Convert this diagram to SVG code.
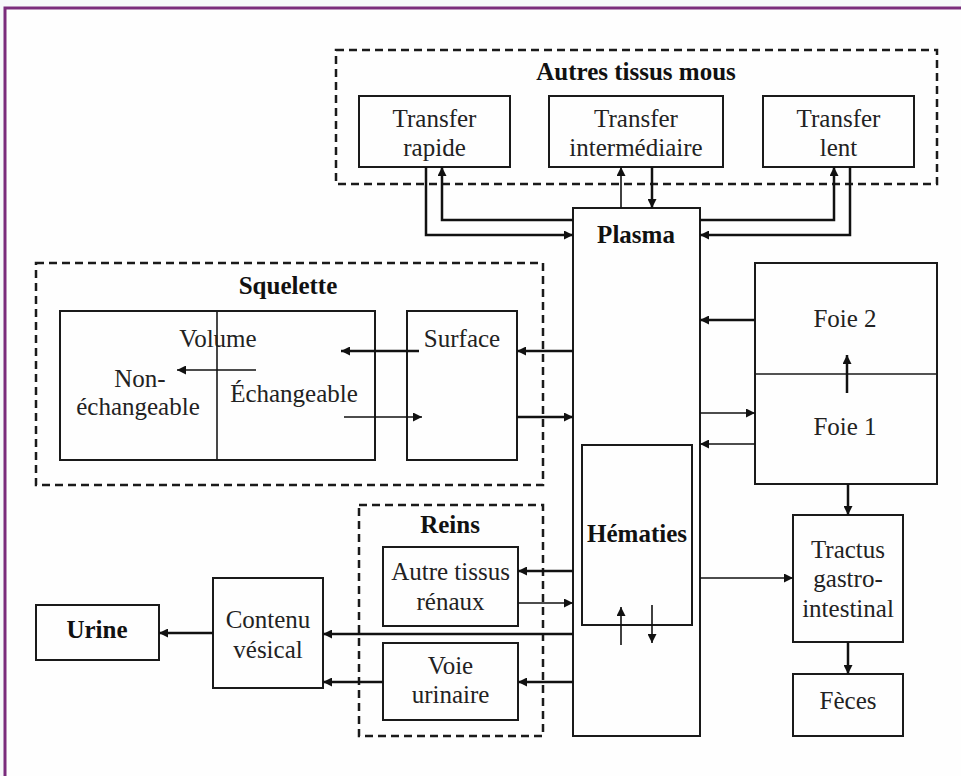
<svg xmlns="http://www.w3.org/2000/svg" width="961" height="776" viewBox="0 0 961 776">
<defs>
<marker id="ah" viewBox="0 0 10 10" refX="10" refY="5" markerWidth="9" markerHeight="9" markerUnits="userSpaceOnUse" orient="auto">
<path d="M0,0 L10,5 L0,10 z" fill="#111"/>
</marker>
</defs>
<style>
.box{fill:none;stroke:#1a1a1a;stroke-width:2}
.dash{fill:none;stroke:#1a1a1a;stroke-width:2.5;stroke-dasharray:8 5}
.t{font-family:"Liberation Serif","Times New Roman",serif;font-size:25px;fill:#222;text-anchor:middle}
.b{font-weight:bold;fill:#111}
.c{fill:none;stroke:#111;stroke-width:2.5;marker-end:url(#ah)}
.thin{stroke-width:1.6}
</style>
<rect x="0" y="0" width="961" height="776" fill="#f6f8fa"/>
<rect x="5" y="8" width="960" height="775" fill="#fefefe" stroke="#7a2c7c" stroke-width="3"/>

<g id="autres-tissus-mous">
<rect class="dash" x="336" y="50" width="601" height="134"/>
<text class="t b" x="636" y="80">Autres tissus mous</text>
</g>
<g id="transfer-rapide">
<rect class="box" x="359" y="96" width="151" height="71"/>
<text class="t" x="434.5" y="127">Transfer</text>
<text class="t" x="434.5" y="156">rapide</text>
</g>
<g id="transfer-intermediaire">
<rect class="box" x="549" y="96" width="174" height="71"/>
<text class="t" x="636" y="127">Transfer</text>
<text class="t" x="636" y="156">intermédiaire</text>
</g>
<g id="transfer-lent">
<rect class="box" x="763" y="96" width="151" height="71"/>
<text class="t" x="838.5" y="127">Transfer</text>
<text class="t" x="838.5" y="156">lent</text>
</g>

<g id="plasma">
<rect class="box" x="573" y="208" width="127" height="528"/>
<text class="t b" x="636" y="243">Plasma</text>
</g>
<g id="hematies">
<rect class="box" x="582" y="445" width="110" height="180"/>
<text class="t b" x="637" y="542">Hématies</text>
</g>

<g id="squelette">
<rect class="dash" x="36" y="263" width="507" height="222"/>
<text class="t b" x="288" y="294">Squelette</text>
</g>
<g id="volume">
<rect class="box" x="60" y="311" width="315" height="149"/>
<line x1="217" y1="311" x2="217" y2="460" stroke="#1a1a1a" stroke-width="1.6"/>
<text class="t" x="218" y="347">Volume</text>
<text class="t" x="140" y="387">Non-</text>
<text class="t" x="138" y="415">échangeable</text>
<text class="t" x="294" y="402">Échangeable</text>
</g>
<g id="surface">
<rect class="box" x="407" y="311" width="110" height="149"/>
<text class="t" x="462" y="347">Surface</text>
</g>

<g id="foie">
<rect class="box" x="755" y="263" width="182" height="221"/>
<line x1="755" y1="374" x2="937" y2="374" stroke="#1a1a1a" stroke-width="1.4"/>
<text class="t" x="845" y="327">Foie 2</text>
<text class="t" x="845" y="435">Foie 1</text>
</g>
<g id="tractus">
<rect class="box" x="793" y="515" width="110" height="127"/>
<text class="t" x="848" y="558">Tractus</text>
<text class="t" x="848" y="587">gastro-</text>
<text class="t" x="848" y="617">intestinal</text>
</g>
<g id="feces">
<rect class="box" x="793" y="674" width="110" height="62"/>
<text class="t" x="848" y="709">Fèces</text>
</g>

<g id="reins">
<rect class="dash" x="359" y="505" width="184" height="231"/>
<text class="t b" x="450" y="533">Reins</text>
</g>
<g id="autre-tissus-renaux">
<rect class="box" x="383" y="547" width="135" height="79"/>
<text class="t" x="450.5" y="580">Autre tissus</text>
<text class="t" x="450.5" y="610">rénaux</text>
</g>
<g id="voie-urinaire">
<rect class="box" x="383" y="643" width="135" height="77"/>
<text class="t" x="450.5" y="674">Voie</text>
<text class="t" x="450.5" y="703">urinaire</text>
</g>
<g id="contenu-vesical">
<rect class="box" x="213" y="578" width="110" height="110"/>
<text class="t" x="268" y="628">Contenu</text>
<text class="t" x="268" y="658">vésical</text>
</g>
<g id="urine">
<rect class="box" x="36" y="605" width="123" height="55"/>
<text class="t b" x="97" y="638">Urine</text>
</g>

<g id="connectors">
<polyline class="c" points="426,167 426,235 573,235"/>
<polyline class="c" points="573,220 442,220 442,167"/>
<line class="c thin" x1="621" y1="208" x2="621" y2="167"/>
<line class="c" x1="652" y1="167" x2="652" y2="208"/>
<polyline class="c" points="700,220 834,220 834,167"/>
<polyline class="c" points="850,167 850,235 700,235"/>
<line class="c" x1="573" y1="351" x2="517" y2="351"/>
<line class="c" x1="517" y1="417" x2="573" y2="417"/>
<line class="c" x1="419" y1="351" x2="341" y2="351"/>
<line class="c thin" x1="344" y1="417" x2="422" y2="417"/>
<line class="c thin" x1="256" y1="370" x2="177" y2="370"/>
<line class="c" x1="755" y1="320" x2="700" y2="320"/>
<line class="c thin" x1="700" y1="413" x2="755" y2="413"/>
<line class="c thin" x1="755" y1="444" x2="700" y2="444"/>
<line class="c" x1="847" y1="393" x2="847" y2="355"/>
<line class="c" x1="848" y1="484" x2="848" y2="515"/>
<line class="c thin" x1="700" y1="578" x2="793" y2="578"/>
<line class="c" x1="848" y1="642" x2="848" y2="674"/>
<line class="c thin" x1="621" y1="645" x2="621" y2="607"/>
<line class="c thin" x1="652" y1="605" x2="652" y2="643"/>
<line class="c" x1="573" y1="571" x2="518" y2="571"/>
<line class="c thin" x1="518" y1="603" x2="573" y2="603"/>
<line class="c" x1="573" y1="634" x2="323" y2="634"/>
<line class="c" x1="573" y1="682" x2="518" y2="682"/>
<line class="c" x1="383" y1="682" x2="323" y2="682"/>
<line class="c" x1="213" y1="633" x2="159" y2="633"/>
</g>
</svg>
